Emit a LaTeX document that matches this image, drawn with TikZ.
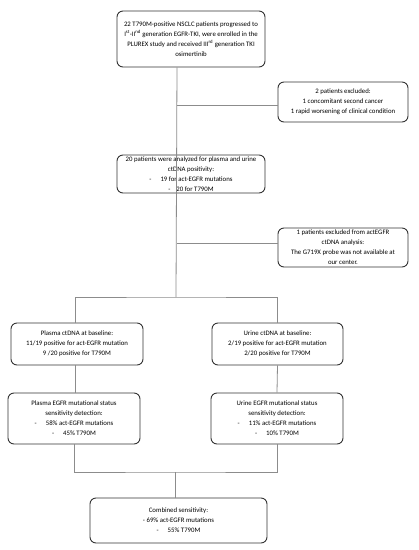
\documentclass[tikz,border=0pt]{standalone}
\usepackage{fontspec}
\setmainfont{Carlito}
\begin{document}
\begin{tikzpicture}[x=1pt,y=-1pt,
  box/.style={draw=black!80, line width=0.9pt, rounded corners=6pt, align=center, inner sep=0pt,
    font=\fontsize{6.8}{10}\selectfont},
  conn/.style={draw=black!45, line width=0.8pt}]
\useasboundingbox[fill=white] (0,0) rectangle (419,550);
\node[box, minimum width=148pt, minimum height=56pt] (b1) at (191,39)
 {22 T790M-positive NSCLC patients progressed to\\
  I\textsuperscript{st}-II\textsuperscript{nd} generation EGFR-TKI, were enrolled in the\\
  PLUREX study and received III\textsuperscript{rd} generation TKI\\ osimertinib};
\node[box, minimum width=130pt, minimum height=40pt] (b2) at (343,102)
 {2 patients excluded:\\ 1 concomitant second cancer\\ 1 rapid worsening of clinical condition};
\node[box, minimum width=148pt, minimum height=38pt] (b3) at (191,174)
 {20 patients were analyzed for plasma and urine\\ ctDNA positivity:\\
  -\hspace{9pt}19 for act-EGFR mutations\\ -\hspace{6pt}20 for T790M};
\node[box, minimum width=130pt, minimum height=39pt] (b4) at (343,247.5)
 {1 patients excluded from actEGFR\\ ctDNA analysis:\\ The G719X probe was not available at\\ our center.};
\node[box, minimum width=132pt, minimum height=42pt] (pb) at (77,344)
 {Plasma ctDNA at baseline:\\ 11/19 positive for act-EGFR mutation\\ 9 /20 positive for T790M};
\node[box, minimum width=131pt, minimum height=42pt] (ub) at (277.5,344)
 {Urine ctDNA at baseline:\\ 2/19 positive for act-EGFR mutation\\ 2/20 positive for T790M};
\node[box, minimum width=132pt, minimum height=51pt] (ps) at (74,418.5)
 {Plasma EGFR mutational status\\ sensitivity detection:\\
  -\hspace{9pt}58\% act-EGFR mutations\\ -\hspace{9pt}45\% T790M};
\node[box, minimum width=132pt, minimum height=51pt] (us) at (277,418.5)
 {Urine EGFR mutational status\\ sensitivity detection:\\
  -\hspace{9pt}11\% act-EGFR mutations\\ -\hspace{9pt}10\% T790M};
\node[box, minimum width=177pt, minimum height=45pt] (cb) at (178.5,520.5)
 {Combined sensitivity:\\ - 69\% act-EGFR mutations\\ -\hspace{9pt}55\% T790M};
\coordinate (spine) at (177,0);
\coordinate (split) at (176,297);
\coordinate (merge) at (175,472);
\draw[conn] (b1.south -| spine) -- (split);
\draw[conn] (b2.west |- 0,105) -- (spine |- 0,105);
\draw[conn] (b4.west |- 0,243) -- (spine |- 0,243);
\draw[conn] (pb.north -| 75,0) |- (split) -| (ub.north);
\draw[conn] (pb.south -| 75,0) -- (ps.north -| 75,0);
\draw[conn] (ub.south) -- (us.north);
\draw[conn] (ps.south -| 74,0) |- (merge) -| (us.south);
\draw[conn] (merge) -- (cb.north -| merge);
\end{tikzpicture}
\end{document}
